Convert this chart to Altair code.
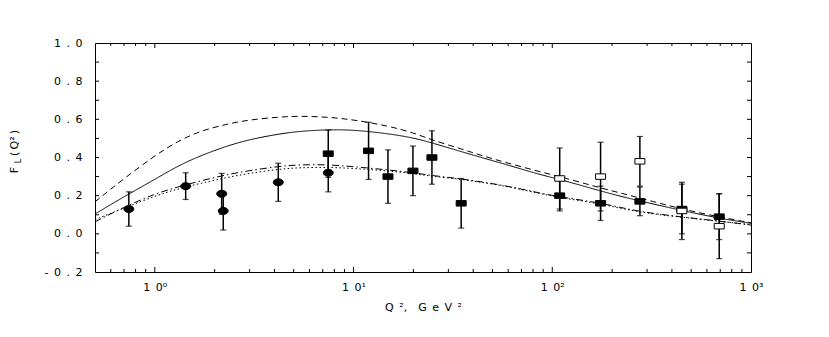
import altair as alt
import pandas as pd

# ---------------- data ----------------
Q2_GRID = [0.5, 0.7, 1.0, 1.3, 1.7, 2.3, 3.0, 4.3, 5.4, 7.4, 10, 15, 20, 25, 35, 44,
           60, 87, 109, 150, 188, 276, 437, 700, 1000]
CURVE_DASHED = [0.168, 0.29, 0.41, 0.485, 0.54, 0.575, 0.598, 0.613, 0.617, 0.612, 0.598,
                0.565, 0.53, 0.49, 0.445, 0.41, 0.37, 0.325, 0.30, 0.26, 0.232,
                0.188, 0.132, 0.087, 0.058]
CURVE_SOLID = [0.104, 0.195, 0.285, 0.355, 0.41, 0.46, 0.495, 0.525, 0.538, 0.546, 0.545,
               0.525, 0.503, 0.476, 0.43, 0.40, 0.36, 0.31, 0.285, 0.245, 0.215,
               0.172, 0.125, 0.08, 0.055]
CURVE_DASHDOT = [0.063, 0.14, 0.21, 0.245, 0.278, 0.31, 0.332, 0.355, 0.362, 0.363,
                 0.352, 0.335, 0.32, 0.305, 0.288, 0.272, 0.25, 0.213, 0.194, 0.172,
                 0.155, 0.115, 0.09, 0.066, 0.046]
CURVE_DOTTED = [0.075, 0.135, 0.198, 0.235, 0.265, 0.295, 0.318, 0.34, 0.347, 0.349,
                0.343, 0.33, 0.315, 0.302, 0.285, 0.27, 0.248, 0.21, 0.19, 0.168,
                0.15, 0.112, 0.088, 0.065, 0.048]

CIRC_Q2 = [0.74, 1.43, 2.17, 2.21, 4.18, 7.46]
CIRC_FL = [0.13, 0.25, 0.21, 0.12, 0.27, 0.32]
CIRC_ERR = [0.09, 0.07, 0.107, 0.10, 0.10, 0.10]

FSQ_Q2 = [7.46, 11.9, 14.9, 19.9, 24.8, 34.8, 109, 175, 276, 449, 692]
FSQ_FL = [0.42, 0.435, 0.30, 0.33, 0.40, 0.16, 0.20, 0.16, 0.17, 0.13, 0.09]
FSQ_ERR = [0.124, 0.15, 0.14, 0.13, 0.14, 0.13, 0.08, 0.09, 0.075, 0.13, 0.12]

OSQ_Q2 = [109, 175, 276, 449, 692]
OSQ_FL = [0.29, 0.30, 0.38, 0.12, 0.04]
OSQ_ERR = [0.16, 0.18, 0.13, 0.15, 0.17]

X_MAJOR = [1, 10, 100, 1000]
X_MINOR = [0.6, 0.7, 0.8, 0.9, 2, 3, 4, 5, 6, 7, 8, 9, 20, 30, 40, 50, 60, 70, 80, 90,
           200, 300, 400, 500, 600, 700, 800, 900]
Y_LABELS = [-0.2, 0.0, 0.2, 0.4, 0.6, 0.8, 1.0]
Y_TICKS = [-0.1, 0.0, 0.1, 0.2, 0.3, 0.4, 0.5, 0.6, 0.7, 0.8, 0.9]

# ---------------- layout / style ----------------
W, H = 656, 229
FONT = "DejaVu Sans"
EN = "\u2002"

xs = alt.Scale(type="log", domain=[0.5, 1000], nice=False)
ys = alt.Scale(domain=[-0.2, 1.0], nice=False, zero=False)

x_axis = alt.Axis(
    values=X_MAJOR,
    labelExpr="'1" + EN + "0' + (datum.value < 5 ? '\u2070' : datum.value < 50 ? '\u00b9' : datum.value < 500 ? '\u00b2' : '\u00b3')",
    title="Q" + EN + "\u00b2," + EN + EN + "G" + EN + "e" + EN + "V" + EN + "\u00b2",
    ticks=False, tickSize=0, domain=False, grid=False,
    labelFont=FONT, labelFontSize=11, labelColor="black", labelPadding=9,
    titleFont=FONT, titleFontSize=11, titleFontWeight="normal", titleColor="black",
    titlePadding=9, labelFlush=False,
)
y_axis = alt.Axis(
    values=Y_LABELS, format=".1f",
    labelExpr="replace(replace(datum.label, '.', '" + EN + "." + EN + "'), '\u2212', '-" + EN + "')",
    title=None,
    ticks=False, tickSize=0, domain=False, grid=False,
    labelFont=FONT, labelFontSize=11, labelColor="black", labelPadding=13,
    labelFlush=False,
)

X = lambda f: alt.X(f, type="quantitative", scale=xs, axis=x_axis)
Y = lambda f: alt.Y(f, type="quantitative", scale=ys, axis=y_axis)

layers = []

# model curves
curves = [
    (CURVE_DASHED, [6, 4]),
    (CURVE_SOLID, [1, 0]),
    (CURVE_DASHDOT, [7, 3, 1.5, 3]),
    (CURVE_DOTTED, [1.5, 2.5]),
]
for vals, dash in curves:
    df = pd.DataFrame({"q2": Q2_GRID, "fl": vals})
    layers.append(
        alt.Chart(df).mark_line(color="black", strokeWidth=1, strokeDash=dash,
                                interpolate="basis")
        .encode(x=X("q2"), y=Y("fl"))
    )

RECT = "M-1,-0.55L1,-0.55L1,0.55L-1,0.55Z"
ELLIPSE = "M-1,0A1,0.7,0,1,0,1,0A1,0.7,0,1,0,-1,0Z"

def points(q, f, e, shape, fill):
    df = pd.DataFrame({"q2": q, "fl": f, "lo": [a - b for a, b in zip(f, e)],
                       "hi": [a + b for a, b in zip(f, e)]})
    base = alt.Chart(df)
    bar = base.mark_rule(color="black", strokeWidth=1.5).encode(
        x=X("q2"), y=Y("lo"), y2="hi")
    cap_lo = base.mark_tick(color="black", orient="horizontal", size=6, thickness=1.2).encode(
        x=X("q2"), y=Y("lo"))
    cap_hi = base.mark_tick(color="black", orient="horizontal", size=6, thickness=1.2).encode(
        x=X("q2"), y=Y("hi"))
    mk = base.mark_point(shape=shape, size=100, filled=True, fill=fill, stroke="black",
                         strokeWidth=1, opacity=1).encode(x=X("q2"), y=Y("fl"))
    return [bar, cap_lo, cap_hi], mk

bars1, mk1 = points(CIRC_Q2, CIRC_FL, CIRC_ERR, ELLIPSE, "black")
bars2, mk2 = points(FSQ_Q2, FSQ_FL, FSQ_ERR, RECT, "black")
bars3, mk3 = points(OSQ_Q2, OSQ_FL, OSQ_ERR, RECT, "white")
layers += bars1 + bars2 + bars3 + [mk1, mk2, mk3]

# inward frame ticks
xmaj = alt.Chart(pd.DataFrame({"v": X_MAJOR[:-1]}))
xmin = alt.Chart(pd.DataFrame({"v": X_MINOR}))
ytk = alt.Chart(pd.DataFrame({"v": Y_TICKS}))
for src, ln in [(xmaj, 5), (xmin, 3)]:
    layers.append(src.mark_rule(color="black", strokeWidth=1).encode(
        x=X("v"), y=alt.value(H), y2=alt.value(H - ln)))
    layers.append(src.mark_rule(color="black", strokeWidth=1).encode(
        x=X("v"), y=alt.value(0), y2=alt.value(ln)))
layers.append(ytk.mark_rule(color="black", strokeWidth=1).encode(
    y=Y("v"), x=alt.value(0), x2=alt.value(4)))
layers.append(ytk.mark_rule(color="black", strokeWidth=1).encode(
    y=Y("v"), x=alt.value(W), x2=alt.value(W - 4)))

# y axis title F_L(Q^2) built from text pieces (subscript L)
one = alt.Chart(pd.DataFrame({"a": [0]}))
layers.append(one.mark_text(text="F", font=FONT, fontSize=11, angle=270, align="center",
                            baseline="middle", color="black")
              .encode(x=alt.value(-80), y=alt.value(127)))
layers.append(one.mark_text(text="L", font=FONT, fontSize=8, angle=270, align="center",
                            baseline="middle", color="black")
              .encode(x=alt.value(-76), y=alt.value(118)))
layers.append(one.mark_text(text="(\u2009Q\u00b2\u2009)", font=FONT, fontSize=11, angle=270,
                            align="center", baseline="middle", color="black")
              .encode(x=alt.value(-80), y=alt.value(100)))

chart = alt.layer(*layers).properties(
    width=W, height=H,
    autosize=alt.AutoSizeParams(type="none"),
    padding={"left": 87, "top": 35, "right": 60, "bottom": 48},
    background="white",
).configure_view(stroke="black", strokeWidth=1)

chart.save("out.html", embed_options={"renderer": "svg", "actions": False})
